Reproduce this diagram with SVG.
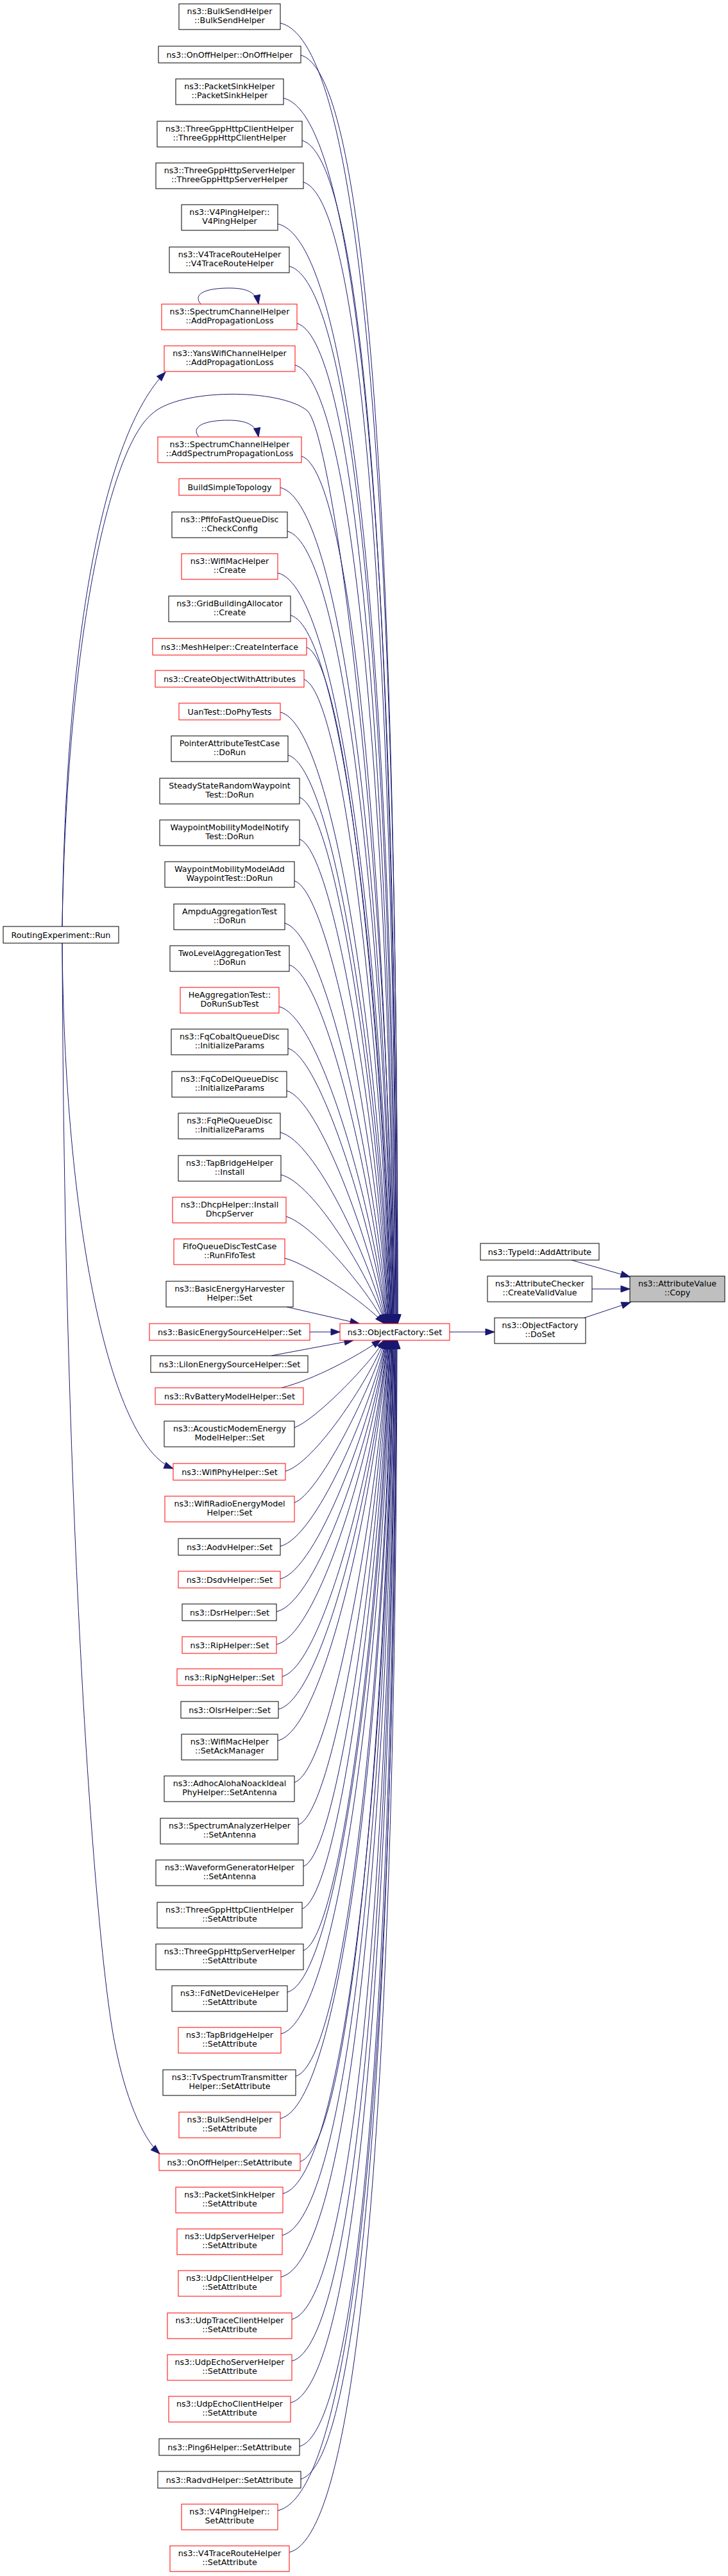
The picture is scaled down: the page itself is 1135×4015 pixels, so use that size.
<svg xmlns="http://www.w3.org/2000/svg" width="1135" height="4015" viewBox="0 0 1135 4015">
<style>
.n rect{fill:#ffffff;stroke:#000000;stroke-width:1}
.n.r rect{stroke:#ff0000}
.n.g rect{fill:#bfbfbf;stroke:#000000}
text{font-family:"DejaVu Sans","Liberation Sans",sans-serif;font-size:12.7px;text-anchor:middle;fill:#000000}
#edges path{fill:none;stroke:#191970;stroke-width:1;marker-end:url(#ah)}
</style>
<defs>
<marker id="ah" markerUnits="userSpaceOnUse" markerWidth="16" markerHeight="12" refX="14" refY="5" orient="auto" overflow="visible">
<path d="M0,0 L14,5 L0,10 z" fill="#191970" stroke="#191970" stroke-width="1"/>
</marker>
</defs>
<rect x="0" y="0" width="1135" height="4015" fill="#ffffff"/>
<g id="edges">
<path d="M437,36 C570,66 620,839 620,2063"/>
<path d="M469,86 C578,116 619,884 620,2063"/>
<path d="M442,153 C566,182 618,943 619,2063"/>
<path d="M471,219 C572,247 616,1000 618,2063"/>
<path d="M473,284 C570,312 614,1055 618,2063"/>
<path d="M433,349 C555,376 613,1108 617,2063"/>
<path d="M451,415 C557,442 611,1161 616,2063"/>
<path d="M463,504 C557,530 608,1231 615,2063"/>
<path d="M460,569 C553,594 607,1280 614,2063"/>
<path d="M97,1444 C104,1000 170,700 237,645 C280,605 436,605 479,640 C520,678 605,1332 614,2063"/>
<path d="M470,711 C549,735 603,1383 613,2063"/>
<path d="M437,760 C537,783 602,1417 612,2063"/>
<path d="M448,828 C537,850 600,1464 612,2063"/>
<path d="M433,893 C530,915 598,1507 611,2063"/>
<path d="M453,959 C533,980 597,1549 610,2063"/>
<path d="M478,1009 C538,1030 595,1580 610,2063"/>
<path d="M474,1059 C534,1079 594,1611 609,2063"/>
<path d="M437,1110 C521,1130 593,1641 608,2063"/>
<path d="M449,1177 C521,1196 591,1680 608,2063"/>
<path d="M467,1243 C524,1261 589,1716 607,2063"/>
<path d="M467,1308 C521,1326 588,1751 606,2063"/>
<path d="M459,1373 C515,1390 586,1785 606,2063"/>
<path d="M444,1439 C508,1455 584,1817 605,2063"/>
<path d="M451,1504 C507,1520 582,1848 604,2063"/>
<path d="M435,1569 C499,1584 581,1878 603,2063"/>
<path d="M449,1634 C500,1648 579,1907 603,2063"/>
<path d="M447,1700 C497,1714 577,1934 602,2063"/>
<path d="M437,1765 C491,1778 576,1960 601,2063"/>
<path d="M438,1831 C488,1843 574,1985 601,2063"/>
<path d="M446,1896 C487,1908 572,2009 600,2063"/>
<path d="M444,1961 C484,1972 570,2031 599,2063"/>
<path d="M447,2037 L560,2063"/>
<path d="M483,2076 L530,2076"/>
<path d="M423,2113 L551,2089"/>
<path d="M439,2163 C490,2150 555,2115 594,2088"/>
<path d="M459,2225 C490,2214 572,2132 600,2088"/>
<path d="M445,2293 C489,2281 573,2156 600,2088"/>
<path d="M459,2342 C495,2330 575,2174 601,2088"/>
<path d="M437,2410 C492,2397 576,2200 602,2088"/>
<path d="M437,2461 C494,2447 578,2221 602,2088"/>
<path d="M431,2512 C495,2498 579,2242 603,2088"/>
<path d="M431,2563 C497,2548 580,2264 603,2088"/>
<path d="M440,2613 C502,2598 582,2287 604,2088"/>
<path d="M434,2664 C503,2648 583,2311 604,2088"/>
<path d="M433,2713 C505,2697 584,2334 605,2088"/>
<path d="M459,2778 C515,2761 586,2366 606,2088"/>
<path d="M465,2844 C520,2826 588,2401 606,2088"/>
<path d="M473,2909 C526,2891 589,2435 607,2088"/>
<path d="M471,2975 C528,2956 591,2472 608,2088"/>
<path d="M473,3040 C532,3020 593,2510 608,2088"/>
<path d="M448,3105 C527,3085 594,2548 609,2088"/>
<path d="M438,3170 C527,3149 596,2588 610,2088"/>
<path d="M461,3236 C537,3215 598,2630 611,2088"/>
<path d="M437,3302 C533,3280 600,2673 611,2088"/>
<path d="M468,3369 C545,3346 601,2718 612,2088"/>
<path d="M441,3419 C539,3396 603,2753 613,2088"/>
<path d="M440,3484 C542,3460 604,2799 613,2088"/>
<path d="M438,3549 C545,3524 606,2847 614,2088"/>
<path d="M455,3615 C553,3590 608,2896 615,2088"/>
<path d="M455,3680 C556,3654 609,2946 616,2088"/>
<path d="M453,3745 C558,3718 611,2997 616,2088"/>
<path d="M467,3813 C565,3786 613,3052 617,2088"/>
<path d="M469,3864 C568,3836 614,3094 618,2088"/>
<path d="M433,3913 C560,3885 616,3135 618,2088"/>
<path d="M451,3978 C568,3949 617,3191 619,2088"/>
<path d="M97,1444 C102,1000 160,680 258,580"/>
<path d="M97,1469 C100,1900 170,2250 270,2289"/>
<path d="M97,1469 C100,2400 150,3050 180,3190 C195,3265 220,3330 249,3357"/>
<path d="M313,474 C300,458 320,449 358,449 C385,449 400,456 403,474"/>
<path d="M310,681 C297,665 318,655 356,655 C385,655 400,663 403,681"/>
<path d="M701,2076 L771,2076"/>
<path d="M911,2054 L983,2030"/>
<path d="M891,1964 L982,1990"/>
<path d="M923,2009 L982,2009"/>
</g>
<g id="n1" class="n"><rect x="279" y="6" width="158" height="40"/><text x="358" y="21.8">ns3::BulkSendHelper<tspan x="358" dy="14.6">::BulkSendHelper</tspan></text></g>
<g id="n2" class="n"><rect x="247" y="72" width="222" height="26"/><text x="358" y="89.5">ns3::OnOffHelper::OnOffHelper</text></g>
<g id="n3" class="n"><rect x="274" y="123" width="168" height="40"/><text x="358" y="138.8">ns3::PacketSinkHelper<tspan x="358" dy="14.6">::PacketSinkHelper</tspan></text></g>
<g id="n4" class="n"><rect x="245" y="189" width="226" height="40"/><text x="358" y="204.8">ns3::ThreeGppHttpClientHelper<tspan x="358" dy="14.6">::ThreeGppHttpClientHelper</tspan></text></g>
<g id="n5" class="n"><rect x="243" y="254" width="230" height="40"/><text x="358" y="269.8">ns3::ThreeGppHttpServerHelper<tspan x="358" dy="14.6">::ThreeGppHttpServerHelper</tspan></text></g>
<g id="n6" class="n"><rect x="283" y="319" width="150" height="40"/><text x="358" y="334.8">ns3::V4PingHelper::<tspan x="358" dy="14.6">V4PingHelper</tspan></text></g>
<g id="n7" class="n"><rect x="264" y="385" width="187" height="40"/><text x="358" y="400.8">ns3::V4TraceRouteHelper<tspan x="358" dy="14.6">::V4TraceRouteHelper</tspan></text></g>
<g id="n8" class="n r"><rect x="252" y="474" width="211" height="40"/><text x="358" y="489.8">ns3::SpectrumChannelHelper<tspan x="358" dy="14.6">::AddPropagationLoss</tspan></text></g>
<g id="n9" class="n r"><rect x="256" y="539" width="204" height="40"/><text x="358" y="554.8">ns3::YansWifiChannelHelper<tspan x="358" dy="14.6">::AddPropagationLoss</tspan></text></g>
<g id="n10" class="n r"><rect x="246" y="681" width="224" height="40"/><text x="358" y="696.8">ns3::SpectrumChannelHelper<tspan x="358" dy="14.6">::AddSpectrumPropagationLoss</tspan></text></g>
<g id="n11" class="n r"><rect x="279" y="746" width="158" height="26"/><text x="358" y="763.5">BuildSimpleTopology</text></g>
<g id="n12" class="n"><rect x="268" y="798" width="180" height="40"/><text x="358" y="813.8">ns3::PfifoFastQueueDisc<tspan x="358" dy="14.6">::CheckConfig</tspan></text></g>
<g id="n13" class="n r"><rect x="283" y="863" width="150" height="40"/><text x="358" y="878.8">ns3::WifiMacHelper<tspan x="358" dy="14.6">::Create</tspan></text></g>
<g id="n14" class="n"><rect x="263" y="929" width="190" height="40"/><text x="358" y="944.8">ns3::GridBuildingAllocator<tspan x="358" dy="14.6">::Create</tspan></text></g>
<g id="n15" class="n r"><rect x="238" y="995" width="240" height="26"/><text x="358" y="1012.5">ns3::MeshHelper::CreateInterface</text></g>
<g id="n16" class="n r"><rect x="242" y="1045" width="232" height="26"/><text x="358" y="1062.5">ns3::CreateObjectWithAttributes</text></g>
<g id="n17" class="n r"><rect x="279" y="1096" width="158" height="26"/><text x="358" y="1113.5">UanTest::DoPhyTests</text></g>
<g id="n18" class="n"><rect x="267" y="1147" width="182" height="40"/><text x="358" y="1162.8">PointerAttributeTestCase<tspan x="358" dy="14.6">::DoRun</tspan></text></g>
<g id="n19" class="n"><rect x="249" y="1213" width="218" height="40"/><text x="358" y="1228.8">SteadyStateRandomWaypoint<tspan x="358" dy="14.6">Test::DoRun</tspan></text></g>
<g id="n20" class="n"><rect x="249" y="1278" width="218" height="40"/><text x="358" y="1293.8">WaypointMobilityModelNotify<tspan x="358" dy="14.6">Test::DoRun</tspan></text></g>
<g id="n21" class="n"><rect x="257" y="1343" width="202" height="40"/><text x="358" y="1358.8">WaypointMobilityModelAdd<tspan x="358" dy="14.6">WaypointTest::DoRun</tspan></text></g>
<g id="n22" class="n"><rect x="271" y="1409" width="173" height="40"/><text x="358" y="1424.8">AmpduAggregationTest<tspan x="358" dy="14.6">::DoRun</tspan></text></g>
<g id="n23" class="n"><rect x="265" y="1474" width="186" height="40"/><text x="358" y="1489.8">TwoLevelAggregationTest<tspan x="358" dy="14.6">::DoRun</tspan></text></g>
<g id="n24" class="n r"><rect x="281" y="1539" width="154" height="40"/><text x="358" y="1554.8">HeAggregationTest::<tspan x="358" dy="14.6">DoRunSubTest</tspan></text></g>
<g id="n25" class="n"><rect x="267" y="1604" width="182" height="40"/><text x="358" y="1619.8">ns3::FqCobaltQueueDisc<tspan x="358" dy="14.6">::InitializeParams</tspan></text></g>
<g id="n26" class="n"><rect x="268" y="1670" width="179" height="40"/><text x="358" y="1685.8">ns3::FqCoDelQueueDisc<tspan x="358" dy="14.6">::InitializeParams</tspan></text></g>
<g id="n27" class="n"><rect x="278" y="1735" width="159" height="40"/><text x="358" y="1750.8">ns3::FqPieQueueDisc<tspan x="358" dy="14.6">::InitializeParams</tspan></text></g>
<g id="n28" class="n"><rect x="278" y="1801" width="160" height="40"/><text x="358" y="1816.8">ns3::TapBridgeHelper<tspan x="358" dy="14.6">::Install</tspan></text></g>
<g id="n29" class="n r"><rect x="269" y="1866" width="177" height="40"/><text x="358" y="1881.8">ns3::DhcpHelper::Install<tspan x="358" dy="14.6">DhcpServer</tspan></text></g>
<g id="n30" class="n r"><rect x="271" y="1931" width="173" height="40"/><text x="358" y="1946.8">FifoQueueDiscTestCase<tspan x="358" dy="14.6">::RunFifoTest</tspan></text></g>
<g id="n31" class="n"><rect x="259" y="1997" width="198" height="40"/><text x="358" y="2012.8">ns3::BasicEnergyHarvester<tspan x="358" dy="14.6">Helper::Set</tspan></text></g>
<g id="n32" class="n r"><rect x="233" y="2063" width="250" height="26"/><text x="358" y="2080.5">ns3::BasicEnergySourceHelper::Set</text></g>
<g id="n33" class="n"><rect x="235" y="2113" width="245" height="26"/><text x="358" y="2130.5">ns3::LiIonEnergySourceHelper::Set</text></g>
<g id="n34" class="n r"><rect x="242" y="2163" width="231" height="26"/><text x="358" y="2180.5">ns3::RvBatteryModelHelper::Set</text></g>
<g id="n35" class="n"><rect x="256" y="2215" width="203" height="40"/><text x="358" y="2230.8">ns3::AcousticModemEnergy<tspan x="358" dy="14.6">ModelHelper::Set</tspan></text></g>
<g id="n36" class="n r"><rect x="270" y="2281" width="175" height="26"/><text x="358" y="2298.5">ns3::WifiPhyHelper::Set</text></g>
<g id="n37" class="n r"><rect x="257" y="2332" width="202" height="40"/><text x="358" y="2347.8">ns3::WifiRadioEnergyModel<tspan x="358" dy="14.6">Helper::Set</tspan></text></g>
<g id="n38" class="n"><rect x="278" y="2398" width="159" height="26"/><text x="358" y="2415.5">ns3::AodvHelper::Set</text></g>
<g id="n39" class="n r"><rect x="278" y="2449" width="159" height="26"/><text x="358" y="2466.5">ns3::DsdvHelper::Set</text></g>
<g id="n40" class="n"><rect x="284" y="2500" width="147" height="26"/><text x="358" y="2517.5">ns3::DsrHelper::Set</text></g>
<g id="n41" class="n r"><rect x="284" y="2551" width="147" height="26"/><text x="358" y="2568.5">ns3::RipHelper::Set</text></g>
<g id="n42" class="n r"><rect x="276" y="2601" width="164" height="26"/><text x="358" y="2618.5">ns3::RipNgHelper::Set</text></g>
<g id="n43" class="n"><rect x="282" y="2652" width="152" height="26"/><text x="358" y="2669.5">ns3::OlsrHelper::Set</text></g>
<g id="n44" class="n"><rect x="283" y="2703" width="150" height="40"/><text x="358" y="2718.8">ns3::WifiMacHelper<tspan x="358" dy="14.6">::SetAckManager</tspan></text></g>
<g id="n45" class="n"><rect x="256" y="2768" width="203" height="40"/><text x="358" y="2783.8">ns3::AdhocAlohaNoackIdeal<tspan x="358" dy="14.6">PhyHelper::SetAntenna</tspan></text></g>
<g id="n46" class="n"><rect x="250" y="2834" width="215" height="40"/><text x="358" y="2849.8">ns3::SpectrumAnalyzerHelper<tspan x="358" dy="14.6">::SetAntenna</tspan></text></g>
<g id="n47" class="n"><rect x="243" y="2899" width="230" height="40"/><text x="358" y="2914.8">ns3::WaveformGeneratorHelper<tspan x="358" dy="14.6">::SetAntenna</tspan></text></g>
<g id="n48" class="n"><rect x="245" y="2965" width="226" height="40"/><text x="358" y="2980.8">ns3::ThreeGppHttpClientHelper<tspan x="358" dy="14.6">::SetAttribute</tspan></text></g>
<g id="n49" class="n"><rect x="243" y="3030" width="230" height="40"/><text x="358" y="3045.8">ns3::ThreeGppHttpServerHelper<tspan x="358" dy="14.6">::SetAttribute</tspan></text></g>
<g id="n50" class="n"><rect x="268" y="3095" width="180" height="40"/><text x="358" y="3110.8">ns3::FdNetDeviceHelper<tspan x="358" dy="14.6">::SetAttribute</tspan></text></g>
<g id="n51" class="n r"><rect x="278" y="3160" width="160" height="40"/><text x="358" y="3175.8">ns3::TapBridgeHelper<tspan x="358" dy="14.6">::SetAttribute</tspan></text></g>
<g id="n52" class="n"><rect x="254" y="3226" width="207" height="40"/><text x="358" y="3241.8">ns3::TvSpectrumTransmitter<tspan x="358" dy="14.6">Helper::SetAttribute</tspan></text></g>
<g id="n53" class="n r"><rect x="279" y="3292" width="158" height="40"/><text x="358" y="3307.8">ns3::BulkSendHelper<tspan x="358" dy="14.6">::SetAttribute</tspan></text></g>
<g id="n54" class="n r"><rect x="248" y="3357" width="220" height="26"/><text x="358" y="3374.5">ns3::OnOffHelper::SetAttribute</text></g>
<g id="n55" class="n r"><rect x="274" y="3409" width="167" height="40"/><text x="358" y="3424.8">ns3::PacketSinkHelper<tspan x="358" dy="14.6">::SetAttribute</tspan></text></g>
<g id="n56" class="n r"><rect x="276" y="3474" width="164" height="40"/><text x="358" y="3489.8">ns3::UdpServerHelper<tspan x="358" dy="14.6">::SetAttribute</tspan></text></g>
<g id="n57" class="n r"><rect x="278" y="3539" width="160" height="40"/><text x="358" y="3554.8">ns3::UdpClientHelper<tspan x="358" dy="14.6">::SetAttribute</tspan></text></g>
<g id="n58" class="n r"><rect x="261" y="3605" width="194" height="40"/><text x="358" y="3620.8">ns3::UdpTraceClientHelper<tspan x="358" dy="14.6">::SetAttribute</tspan></text></g>
<g id="n59" class="n r"><rect x="261" y="3670" width="194" height="40"/><text x="358" y="3685.8">ns3::UdpEchoServerHelper<tspan x="358" dy="14.6">::SetAttribute</tspan></text></g>
<g id="n60" class="n r"><rect x="263" y="3735" width="190" height="40"/><text x="358" y="3750.8">ns3::UdpEchoClientHelper<tspan x="358" dy="14.6">::SetAttribute</tspan></text></g>
<g id="n61" class="n"><rect x="248" y="3801" width="219" height="26"/><text x="358" y="3818.5">ns3::Ping6Helper::SetAttribute</text></g>
<g id="n62" class="n"><rect x="246" y="3852" width="223" height="26"/><text x="358" y="3869.5">ns3::RadvdHelper::SetAttribute</text></g>
<g id="n63" class="n r"><rect x="283" y="3903" width="150" height="40"/><text x="358" y="3918.8">ns3::V4PingHelper::<tspan x="358" dy="14.6">SetAttribute</tspan></text></g>
<g id="n64" class="n r"><rect x="265" y="3968" width="186" height="40"/><text x="358" y="3983.8">ns3::V4TraceRouteHelper<tspan x="358" dy="14.6">::SetAttribute</tspan></text></g>
<g id="run" class="n"><rect x="5" y="1444" width="180" height="26"/><text x="95" y="1461.5">RoutingExperiment::Run</text></g>
<g id="set" class="n r"><rect x="530" y="2063" width="171" height="26"/><text x="615.5" y="2080.5">ns3::ObjectFactory::Set</text></g>
<g id="doset" class="n"><rect x="771" y="2054" width="142" height="40"/><text x="842" y="2069.8">ns3::ObjectFactory<tspan x="842" dy="14.6">::DoSet</tspan></text></g>
<g id="typeid" class="n"><rect x="749" y="1938" width="185" height="26"/><text x="841.5" y="1955.5">ns3::TypeId::AddAttribute</text></g>
<g id="checker" class="n"><rect x="760" y="1989" width="163" height="40"/><text x="841.5" y="2004.8">ns3::AttributeChecker<tspan x="841.5" dy="14.6">::CreateValidValue</tspan></text></g>
<g id="copy" class="n g"><rect x="982" y="1989" width="148" height="40"/><text x="1056" y="2004.8">ns3::AttributeValue<tspan x="1056" dy="14.6">::Copy</tspan></text></g>
</svg>
